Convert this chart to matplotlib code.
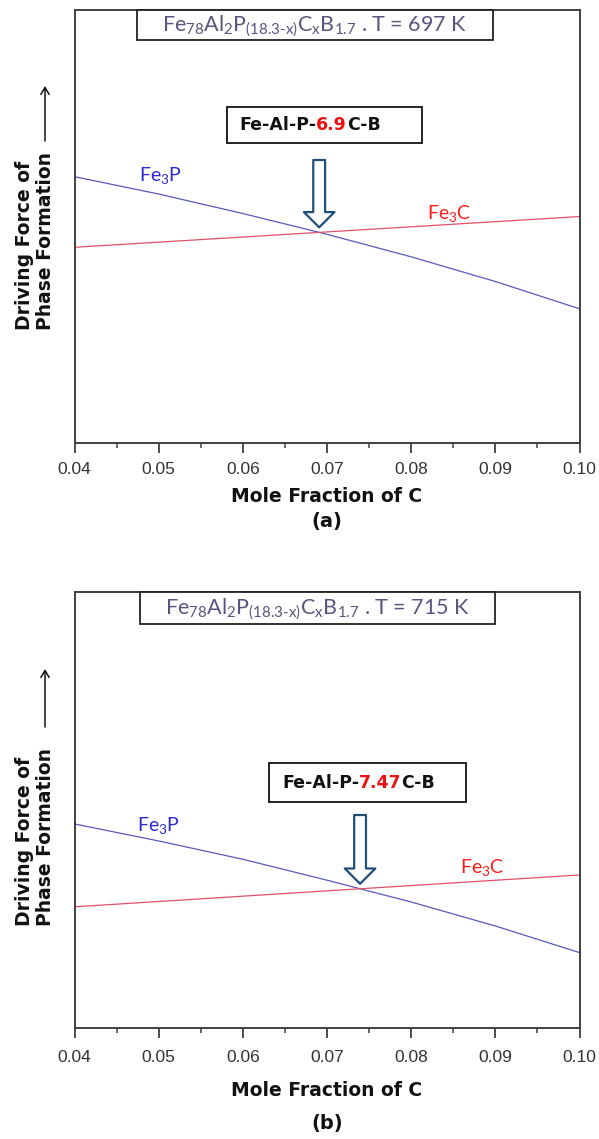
import numpy as np
import matplotlib
matplotlib.use("Agg")
import matplotlib.pyplot as plt
from matplotlib.patches import Rectangle, FancyArrowPatch

plt.rcParams['mathtext.fontset'] = 'custom'
plt.rcParams['mathtext.rm'] = 'Lato'
plt.rcParams['mathtext.it'] = 'Lato:italic'

# Data (arbitrary driving-force units)
mole_frac = [0.04, 0.05, 0.06, 0.07, 0.08, 0.09, 0.10]
fe3p_a = [0.615, 0.575, 0.530, 0.482, 0.430, 0.373, 0.310]
fe3c_a_x = [0.04, 0.10]
fe3c_a = [0.452, 0.523]
fe3p_b = [0.468, 0.429, 0.387, 0.339, 0.289, 0.234, 0.173]
fe3c_b_x = [0.04, 0.10]
fe3c_b = [0.278, 0.351]

tick_vals = [0.04, 0.05, 0.06, 0.07, 0.08, 0.09, 0.10]
tick_labels = ['0.04', '0.05', '0.06', '0.07', '0.08', '0.09', '0.10']
minor_vals = [0.045, 0.055, 0.065, 0.075, 0.085, 0.095]

temps = ['697', '715']
crit_c = ['6.9', '7.47']
panel_tags = ['(a)', '(b)']

W, H = 599, 1139
fig = plt.figure(figsize=(W / 100, H / 100), dpi=100)


def fx(px):
    return px / W


def fy(py):
    return 1 - py / H


def crossing(x, y1, x2, y2):
    xs = np.linspace(x[0], x[-1], 2001)
    d = np.interp(xs, x, y1) - np.interp(xs, x2, y2)
    i = np.where(np.diff(np.sign(d)))[0][0]
    return xs[i], np.interp(xs[i], x, y1)


# per panel pixel layout: axes top/bottom, tick pad, text rows, boxes
panels = [
    dict(top=10, bot=443, fe3p=fe3p_a, fe3c=fe3c_a, cx=fe3c_a_x,
         tick_y=468, xlab_y=497, tag_y=522,
         tbox=(137, 10, 493, 40), lbox=(227, 107, 422, 143), ltext_x=239,
         arrow_tail=160, ylab_y=241, yarr=(141, 86),
         p_lab=(139, 175), c_lab=(427, 213)),
    dict(top=592, bot=1028, fe3p=fe3p_b, fe3c=fe3c_b, cx=fe3c_b_x,
         tick_y=1056, xlab_y=1091, tag_y=1124,
         tbox=(140, 592, 495, 624), lbox=(269, 763, 466, 802), ltext_x=282,
         arrow_tail=815, ylab_y=837, yarr=(727, 669),
         p_lab=(137, 825), c_lab=(460, 867)),
]

left_px, right_px = 74.5, 579.5

for k, p in enumerate(panels):
    ax = fig.add_axes([fx(left_px), fy(p['bot']), fx(right_px - left_px),
                       (p['bot'] - p['top']) / H])
    ax.plot(mole_frac, p['fe3p'], color='#5a5ab8', lw=0.9)
    ax.plot(p['cx'], p['fe3c'], color='#e0506a', lw=0.9)
    ax.set_xlim(0.04, 0.10)
    ax.set_ylim(0, 1)
    ax.set_xticks(tick_vals)
    ax.set_xticklabels(tick_labels, family='Liberation Sans', fontsize=12.5,
                       color='#333333')
    ax.set_xticks(minor_vals, minor=True)
    ax.set_yticks([])
    pad = (p['tick_y'] - p['bot']) / 1.389 - 7.2 - 4.5
    ax.tick_params(axis='x', which='major', direction='out', length=7.2,
                   width=1.3, color='#404040', pad=pad)
    ax.tick_params(axis='x', which='minor', direction='out', length=3.6,
                   width=1.1, color='#404040')
    for s in ax.spines.values():
        s.set_color('#404040')
        s.set_linewidth(1.4)

    # title box
    x0, y0, x1, y1 = p['tbox']
    fig.add_artist(Rectangle((fx(x0), fy(y1)), fx(x1 - x0), (y1 - y0) / H,
                             transform=fig.transFigure, fill=True,
                             facecolor='white', edgecolor='#222222', lw=1.3))
    fig.text(fx((x0 + x1) / 2), fy((y0 + y1) / 2 + 1),
             r'Fe$_{78}$Al$_2$P$_{\mathrm{(18.3\text{-}x)}}$C$_{\mathrm{x}}$B$_{1.7}$ . T = '
             + temps[k] + ' K',
             family='Lato', fontsize=15.5, color='#5c5380',
             ha='center', va='center')

    # composition box with red number
    x0, y0, x1, y1 = p['lbox']
    fig.add_artist(Rectangle((fx(x0), fy(y1)), fx(x1 - x0), (y1 - y0) / H,
                             transform=fig.transFigure, fill=False,
                             edgecolor='#111111', lw=1.3))
    t1 = fig.text(fx(p['ltext_x']), fy((y0 + y1) / 2), 'Fe-Al-P-',
                  fontsize=12.5, fontweight='bold', color='#111111',
                  va='center', ha='left')
    t2 = ax.annotate(crit_c[k], xy=(1, 0), xycoords=t1, va='bottom',
                     ha='left', fontsize=12.5, fontweight='bold',
                     color='#ee1111', annotation_clip=False)
    ax.annotate('C-B', xy=(1, 0), xycoords=t2, va='bottom', ha='left',
                fontsize=12.5, fontweight='bold', color='#111111',
                annotation_clip=False)

    # hollow block arrow pointing to the crossing
    xc, yc = crossing(mole_frac, p['fe3p'], p['cx'], p['fe3c'])
    tip = ax.transData.transform((xc, yc))
    tip_fig = fig.transFigure.inverted().transform((tip[0], tip[1] + 5))
    tail_fig = (tip_fig[0], fy(p['arrow_tail']))
    arr = FancyArrowPatch(tail_fig, tip_fig, transform=fig.transFigure,
                          arrowstyle='simple,head_width=22,head_length=11,tail_width=8.5',
                          mutation_scale=1, shrinkA=0, shrinkB=0,
                          facecolor='white', edgecolor='#1f4e79', lw=1.6)
    fig.add_artist(arr)

    # curve labels
    fig.text(fx(p['p_lab'][0]), fy(p['p_lab'][1]), r'Fe$_3$P', family='Lato',
             fontsize=14, color='#2b2bd0', ha='left', va='center')
    fig.text(fx(p['c_lab'][0]), fy(p['c_lab'][1]), r'Fe$_3$C', family='Lato',
             fontsize=14, color='#ff1a1a', ha='left', va='center')

    # axis labels
    fig.text(fx((left_px + right_px) / 2), fy(p['xlab_y']),
             'Mole Fraction of C', fontsize=13.5, fontweight='bold',
             ha='center', va='center', color='#111111')
    fig.text(fx((left_px + right_px) / 2), fy(p['tag_y']), panel_tags[k],
             fontsize=14, fontweight='bold', ha='center', va='center',
             color='#111111')
    fig.text(fx(35), fy(p['ylab_y']), 'Driving Force of\nPhase Formation',
             rotation=90, fontsize=13.5, fontweight='bold', ha='center',
             va='center', multialignment='left', linespacing=1.1,
             color='#111111')
    fig.add_artist(FancyArrowPatch((fx(45), fy(p['yarr'][0])),
                                   (fx(45), fy(p['yarr'][1])),
                                   transform=fig.transFigure,
                                   arrowstyle='->,head_width=3,head_length=5',
                                   mutation_scale=1, shrinkA=0, shrinkB=0,
                                   color='#111111', lw=1.1))

fig.savefig('out.png', dpi=100)
